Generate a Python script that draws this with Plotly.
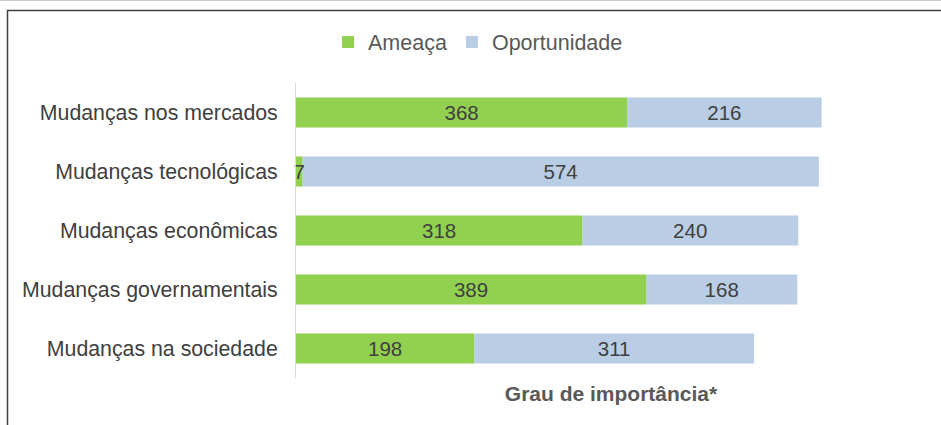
import plotly.graph_objects as go

categories = ["Mudanças nos mercados", "Mudanças tecnológicas", "Mudanças econômicas",
              "Mudanças governamentais", "Mudanças na sociedade"]
ameaca = [368, 7, 318, 389, 198]
oportunidade = [216, 574, 240, 168, 311]
series_names = ["Ameaça", "Oportunidade"]
axis_title = "Grau de importância*"

GREEN = "#92D050"
BLUE = "#B9CDE5"
TXT = "#404040"
FONT = "Liberation Sans, Arial, sans-serif"

fig = go.Figure()
# Oportunidade stacked after Ameaça (base = Ameaça values); drawn first so
# Ameaça labels (e.g. the tiny "7") sit on top.
fig.add_trace(go.Bar(
    y=categories, x=oportunidade, base=ameaca, name=series_names[1], orientation="h",
    marker=dict(color=BLUE, line=dict(width=0)),
    text=[str(v) for v in oportunidade], textposition="inside",
    insidetextanchor="middle", constraintext="none", cliponaxis=False,
    textfont=dict(color=TXT, size=20.5, family=FONT),
    hoverinfo="skip",
))
fig.add_trace(go.Bar(
    y=categories, x=ameaca, name=series_names[0], orientation="h",
    marker=dict(color=GREEN, line=dict(width=0)),
    text=[str(v) for v in ameaca], textposition="inside",
    insidetextanchor="middle", constraintext="none", cliponaxis=False,
    textfont=dict(color=TXT, size=20.5, family=FONT),
    hoverinfo="skip",
))

W, H = 941, 425
L, R, T, B = 296, 15, 83, 47
pw, ph = W - L - R, H - T - B

def px_x(x):
    return (x - L) / pw

def px_y(y):
    return (H - B - y) / ph

fig.update_layout(
    width=W, height=H,
    barmode="overlay", bargap=0.49,
    margin=dict(l=L, r=R, t=T, b=B, autoexpand=False),
    paper_bgcolor="white", plot_bgcolor="white",
    font=dict(family=FONT, color=TXT, size=21),
    showlegend=True,
    legend=dict(orientation="h", xref="container", yref="container",
                x=0.508, y=1 - 42 / H, xanchor="center", yanchor="middle",
                font=dict(size=21.5, color="#595959", family=FONT),
                itemwidth=30, traceorder="reversed", bgcolor="rgba(0,0,0,0)"),
    xaxis=dict(range=[0, 700], showgrid=False, zeroline=False, showticklabels=False,
               showline=False, ticks="",
               title=dict(text="<b>" + axis_title + "</b>", standoff=8,
                          font=dict(size=21, color="#595959", family=FONT))),
    yaxis=dict(autorange="reversed", showgrid=False, zeroline=False,
               showline=True, linecolor="#D9D9D9", linewidth=1, ticks="",
               ticklabelstandoff=13,
               tickfont=dict(size=21.3, color=TXT, family=FONT)),
    shapes=[
        dict(type="rect", xref="paper", yref="paper",
             x0=px_x(7.5), x1=px_x(960), y0=px_y(440), y1=px_y(10.5),
             line=dict(color="#404040", width=1.5), fillcolor="rgba(0,0,0,0)", layer="above"),
        dict(type="line", xref="paper", yref="paper",
             x0=px_x(0), x1=px_x(941), y0=px_y(0.5), y1=px_y(0.5),
             line=dict(color="#C8C8C8", width=1)),
    ],
)

fig.write_html("out.html", config={"displayModeBar": False},
               post_script="document.body.style.margin='0px';document.body.style.overflow='hidden';")
